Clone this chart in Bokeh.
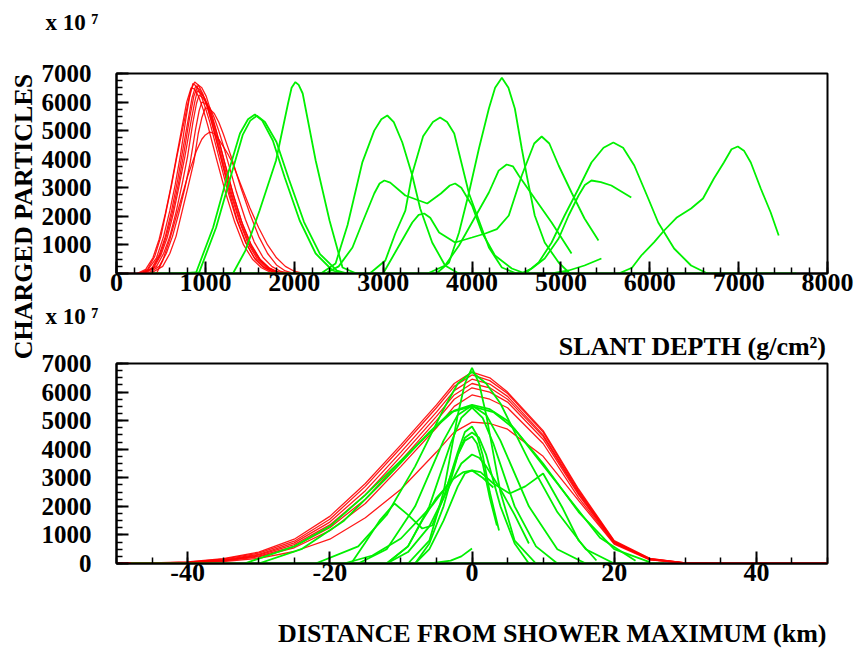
import math
from bokeh.plotting import figure
from bokeh.models import Range1d, SingleIntervalTicker, Label, Title
from bokeh.layouts import column, row
from bokeh.embed import file_html
from bokeh.resources import INLINE

# ---------------- TOP PANEL: charged particles (x 10^7) vs slant depth (g/cm2)
# red showers
r1_x = [0, 250, 350, 450, 530, 600, 660, 720, 780, 820, 860, 900, 950, 1000, 1050, 1100, 1150, 1250, 1350, 1450, 1550, 1650, 1750, 1850]
r1_y = [0, 0, 120, 550, 1300, 2200, 3100, 4150, 5400, 6150, 6650, 6550, 6250, 5800, 5300, 4700, 4100, 2900, 1900, 1100, 550, 230, 70, 0]
r2_x = [300, 400, 480, 550, 620, 690, 750, 810, 850, 890, 930, 980, 1030, 1080, 1130, 1180, 1280, 1380, 1480, 1580, 1680, 1780, 1880]
r2_y = [0, 200, 650, 1300, 2200, 3300, 4400, 5450, 6150, 6550, 6450, 6200, 5750, 5200, 4600, 4000, 2850, 1850, 1050, 520, 220, 60, 0]
r3_x = [280, 420, 500, 570, 640, 700, 770, 840, 880, 910, 950, 1000, 1050, 1100, 1150, 1200, 1300, 1400, 1500, 1600, 1700, 1800, 1900]
r3_y = [0, 200, 650, 1250, 2100, 3000, 4100, 5350, 6000, 6400, 6300, 6100, 5650, 5100, 4500, 3900, 2750, 1750, 1000, 500, 200, 60, 0]
r4_x = [320, 450, 530, 600, 670, 740, 800, 860, 900, 930, 970, 1020, 1070, 1120, 1170, 1220, 1320, 1420, 1520, 1620, 1720, 1820, 1920]
r4_y = [0, 250, 700, 1300, 2150, 3150, 4100, 5300, 5950, 6250, 6150, 5950, 5500, 5000, 4450, 3850, 2700, 1700, 950, 470, 190, 50, 0]
r5_x = [260, 350, 430, 500, 560, 620, 680, 740, 800, 840, 880, 920, 970, 1020, 1070, 1120, 1170, 1260, 1360, 1460, 1560, 1660, 1760, 1860]
r5_y = [0, 150, 600, 1300, 2200, 3100, 4100, 5000, 5900, 6450, 6700, 6600, 6300, 5850, 5300, 4700, 4100, 2950, 1850, 1050, 500, 200, 50, 0]
r6_x = [350, 480, 560, 630, 700, 770, 830, 890, 930, 960, 1000, 1050, 1100, 1150, 1200, 1250, 1350, 1450, 1550, 1650, 1750, 1850, 1950]
r6_y = [0, 250, 700, 1300, 2100, 3000, 3900, 5050, 5700, 6000, 5950, 5800, 5450, 5000, 4500, 3950, 2850, 1900, 1100, 560, 240, 70, 0]
r7_x = [380, 520, 600, 670, 740, 810, 870, 920, 960, 1000, 1050, 1100, 1150, 1200, 1250, 1300, 1400, 1500, 1600, 1700, 1800, 1900, 2000]
r7_y = [0, 250, 700, 1300, 2200, 3100, 3900, 4900, 5450, 5800, 5750, 5600, 5300, 4900, 4450, 4000, 3000, 2100, 1300, 700, 300, 90, 0]
r8_x = [450, 520, 600, 700, 800, 900, 960, 1000, 1050, 1100, 1150, 1200, 1250, 1300, 1400, 1500, 1600, 1700, 1800, 1900, 2000, 2100]
r8_y = [0, 450, 1200, 2300, 3400, 4300, 4700, 4850, 4950, 4900, 4700, 4450, 4200, 3900, 3100, 2300, 1600, 1000, 550, 250, 80, 0]
r9_x = [230, 330, 410, 480, 550, 610, 670, 730, 790, 840, 880, 930, 980, 1030, 1080, 1130, 1230, 1330, 1430, 1530, 1630, 1730, 1830]
r9_y = [0, 150, 550, 1200, 2100, 3000, 4000, 5000, 6000, 6500, 6450, 6150, 5700, 5150, 4550, 3950, 2800, 1800, 1000, 500, 200, 50, 0]
r10_x = [300, 410, 490, 560, 630, 700, 760, 820, 870, 920, 960, 1010, 1060, 1110, 1160, 1210, 1310, 1410, 1510, 1610, 1710, 1810, 1910]
r10_y = [0, 200, 650, 1300, 2150, 3200, 4250, 5400, 6200, 6600, 6500, 6200, 5700, 5150, 4550, 3950, 2800, 1800, 1050, 520, 210, 60, 0]

# green showers
g0_x = [380, 7650]
g0_y = [0, 0]
g1a_x = [700, 896, 1087, 1255, 1389, 1480, 1557, 1640, 1759, 1893, 2061, 2241, 2431, 2550]
g1a_y = [0, 35, 1610, 3500, 4900, 5400, 5565, 5350, 4655, 3360, 1855, 700, 105, 0]
g1b_x = [740, 930, 1120, 1290, 1420, 1505, 1580, 1670, 1800, 1940, 2110, 2290, 2480, 2600]
g1b_y = [0, 40, 1600, 3450, 4850, 5350, 5520, 5300, 4600, 3300, 1800, 680, 100, 0]
g2_x = [1200, 1310, 1450, 1610, 1795, 1930, 1970, 2013, 2050, 2095, 2241, 2397, 2543, 2700]
g2_y = [0, 0, 800, 2205, 3955, 5950, 6500, 6700, 6600, 6300, 3955, 1855, 210, 0]
g3_x = [2300, 2465, 2600, 2767, 2900, 2980, 3047, 3120, 3216, 3328, 3417, 3552, 3697, 3850]
g3_y = [0, 350, 1700, 3900, 5000, 5400, 5530, 5300, 4585, 3430, 2275, 1085, 280, 0]
g4_x = [2350, 2500, 2655, 2767, 2900, 2960, 3014, 3080, 3250, 3496, 3650, 3750, 3810, 3880, 4000, 4112, 4258, 4448, 4600]
g4_y = [0, 250, 910, 1785, 2800, 3150, 3255, 3180, 2730, 2450, 2800, 3080, 3150, 3000, 2380, 1435, 630, 175, 0]
g5_x = [2850, 3025, 3137, 3250, 3328, 3450, 3560, 3641, 3720, 3800, 3966, 4078, 4190, 4336, 4500]
g5_y = [0, 455, 1400, 2200, 3500, 4800, 5300, 5460, 5300, 4900, 2800, 1855, 910, 210, 0]
g6_x = [3000, 3180, 3328, 3400, 3462, 3530, 3630, 3810, 4000, 4150, 4280, 4414, 4560, 4700, 4784, 4870, 4975, 5120, 5266, 5423]
g6_y = [0, 980, 1785, 2050, 2100, 1950, 1435, 1085, 1260, 1400, 1550, 2030, 3430, 4550, 4795, 4550, 3780, 2835, 1925, 1155]
g7_x = [3600, 3742, 3854, 3966, 4078, 4190, 4260, 4336, 4410, 4482, 4560, 4616, 4706, 4818, 4975, 5100]
g7_y = [0, 385, 1435, 2835, 4375, 5775, 6500, 6850, 6500, 5775, 4375, 3430, 2030, 1085, 385, 0]
g8_x = [3500, 3697, 3854, 4000, 4190, 4300, 4390, 4460, 4526, 4706, 4896, 5120]
g8_y = [0, 280, 980, 1785, 2835, 3600, 3815, 3750, 3430, 2625, 1785, 700]
g10_x = [4600, 4750, 4896, 5042, 5199, 5344, 5480, 5590, 5700, 5826, 5983, 6095, 6274, 6465, 6650]
g10_y = [0, 385, 1085, 2030, 2975, 3885, 4400, 4585, 4400, 3780, 2625, 1785, 875, 280, 0]
g11_x = [4550, 4672, 4818, 4975, 5087, 5199, 5270, 5344, 5450, 5568, 5792]
g11_y = [0, 175, 525, 1225, 2030, 2730, 3100, 3255, 3200, 3080, 2660]
g12_x = [5650, 5800, 5905, 6050, 6162, 6300, 6465, 6599, 6722, 6834, 6920, 6991, 7060, 7137, 7249, 7361, 7451]
g12_y = [0, 200, 630, 1100, 1505, 1950, 2275, 2625, 3325, 3885, 4350, 4445, 4300, 3885, 2975, 2135, 1330]
g13_x = [4900, 5087, 5266, 5456]
g13_y = [0, 105, 280, 525]

top_red = [(r1_x, r1_y), (r2_x, r2_y), (r3_x, r3_y), (r4_x, r4_y), (r5_x, r5_y),
           (r6_x, r6_y), (r7_x, r7_y), (r8_x, r8_y), (r9_x, r9_y), (r10_x, r10_y)]
top_green = [(g0_x, g0_y), (g1a_x, g1a_y), (g1b_x, g1b_y), (g2_x, g2_y), (g3_x, g3_y),
             (g4_x, g4_y), (g5_x, g5_y), (g6_x, g6_y), (g7_x, g7_y), (g8_x, g8_y),
             (g10_x, g10_y), (g11_x, g11_y), (g12_x, g12_y), (g13_x, g13_y)]

# ---------------- BOTTOM PANEL: vs distance from shower maximum (km)
br_x = [-50, -45, -40, -35, -30, -25, -20, -15, -10, -5, -2.5, 0, 2.5, 5, 10, 15, 20, 25, 30, 35, 50]
br1_y = [0, 20, 60, 170, 400, 850, 1650, 2800, 4150, 5550, 6300, 6700, 6500, 6000, 4650, 2600, 800, 180, 20, 0, 0]
br2_y = [0, 15, 50, 150, 360, 780, 1550, 2700, 4050, 5450, 6200, 6600, 6400, 5950, 4600, 2550, 780, 170, 20, 0, 0]
br3_y = [0, 10, 40, 130, 320, 720, 1450, 2550, 3900, 5300, 6050, 6450, 6280, 5850, 4500, 2500, 760, 160, 20, 0, 0]
br4_y = [0, 10, 35, 110, 290, 660, 1350, 2400, 3750, 5150, 5900, 6300, 6150, 5750, 4450, 2450, 740, 150, 15, 0, 0]
br5_y = [0, 5, 30, 100, 260, 600, 1250, 2250, 3600, 5000, 5750, 6150, 6000, 5650, 4350, 2400, 720, 140, 15, 0, 0]
br6_y = [0, 5, 25, 90, 230, 550, 1150, 2100, 3400, 4750, 5500, 5900, 5750, 5450, 4200, 2300, 700, 140, 15, 0, 0]
br7_y = [0, 5, 20, 70, 180, 420, 850, 1600, 2600, 3900, 4600, 4950, 4900, 4700, 3750, 2200, 680, 130, 15, 0, 0]

bg0_x = [-48, 27]
bg0_y = [0, 0]
bg1a_x = [-32, -25, -20, -15, -10, -5, -2.5, 0, 2.5, 5, 10, 15, 20, 25]
bg1a_y = [0, 600, 1300, 2400, 3600, 4800, 5350, 5550, 5400, 5000, 3500, 1800, 500, 50]
bg1b_x = [-30, -24, -18, -12, -6, -3, 0, 3, 6, 12, 18, 23]
bg1b_y = [0, 500, 1500, 3000, 4600, 5300, 5500, 5300, 4700, 2800, 900, 100]
bg2_x = [-22, -16, -12, -8, -4, -2, 0, 2, 4, 8, 12, 16, 20]
bg2_y = [0, 600, 1700, 3400, 5400, 6300, 6700, 6300, 5600, 3600, 1800, 500, 0]
bg3_x = [-16, -12, -8, -4, -2, 0, 2, 4, 8, 12, 16]
bg3_y = [0, 500, 2000, 4300, 5200, 5530, 5200, 4300, 2000, 500, 0]
bg4_x = [-18, -14, -10, -5.6, -3, -1.2, 0, 1.2, 3, 5.3, 7.5, 10, 12.7, 15, 17.5]
bg4_y = [0, 280, 875, 2030, 2900, 3200, 3255, 3200, 2800, 2450, 2700, 3150, 1960, 805, 105]
bg5_x = [-12, -9, -6, -3, -1.5, 0, 1.5, 3, 6, 9, 12]
bg5_y = [0, 600, 2000, 4200, 5100, 5460, 5100, 4200, 2000, 600, 0]
bg6_x = [-17, -15, -13, -10.9, -9, -7, -5.6, -4, -2, -1, 0, 0.7, 1.5, 2.5, 3.8]
bg6_y = [0, 735, 1500, 2100, 1700, 1225, 1330, 2300, 3900, 4600, 4795, 4500, 3800, 2500, 1155]
bg7_x = [-9, -6, -4, -2, -1, 0, 1, 2, 4, 6, 9]
bg7_y = [0, 800, 2500, 5200, 6300, 6850, 6300, 5200, 2500, 800, 0]
bg8_x = [-12, -9, -6, -3, -1.5, 0, 1, 2, 4, 6, 8]
bg8_y = [0, 400, 1300, 2800, 3500, 3815, 3700, 3400, 2600, 1700, 700]
bg10_x = [-8, -6, -4, -2, -1, 0, 1, 2, 4, 6, 8]
bg10_y = [0, 700, 2000, 3800, 4400, 4585, 4400, 3800, 2000, 700, 0]
bg11_x = [-8, -6, -4, -2, -1, 0, 1.5, 3]
bg11_y = [0, 500, 1500, 2700, 3150, 3255, 3000, 2660]
bg12_x = [-12, -9, -7, -5, -3.5, -2, -1, 0, 0.7, 1.5, 2.5, 3.5]
bg12_y = [0, 600, 1500, 2300, 2700, 3800, 4300, 4445, 4200, 3500, 2300, 1330]
bg13_x = [-5.9, -3, -1.5, 0]
bg13_y = [0, 100, 250, 525]

bot_red = [br1_y, br2_y, br3_y, br4_y, br5_y, br6_y, br7_y]
bot_green = [(bg0_x, bg0_y), (bg1a_x, bg1a_y), (bg1b_x, bg1b_y), (bg2_x, bg2_y), (bg3_x, bg3_y),
             (bg4_x, bg4_y), (bg5_x, bg5_y), (bg6_x, bg6_y), (bg7_x, bg7_y), (bg8_x, bg8_y),
             (bg10_x, bg10_y), (bg11_x, bg11_y), (bg12_x, bg12_y), (bg13_x, bg13_y)]

bottom_tick_text = {-40: "-40", -20: "-20", 0: "0", 20: "20", 40: "40"}

FONT = "Liberation Serif"
RED = "#ff0000"
GREEN = "#00f000"


def style(p, xint, xminor):
    p.outline_line_color = "black"
    p.outline_line_width = 2
    p.xgrid.visible = False
    p.ygrid.visible = False
    p.background_fill_color = "white"
    p.border_fill_color = "white"
    p.xaxis.ticker = SingleIntervalTicker(interval=xint, num_minor_ticks=xminor)
    p.yaxis.ticker = SingleIntervalTicker(interval=1000, num_minor_ticks=4)
    for ax in (p.xaxis, p.yaxis):
        ax.axis_line_width = 2
        ax.major_tick_in = 12
        ax.major_tick_out = 0
        ax.minor_tick_in = 6
        ax.minor_tick_out = 0
        ax.major_tick_line_width = 2
        ax.minor_tick_line_width = 1.5
        ax.major_label_text_font = FONT
        ax.major_label_text_font_style = "bold"
        ax.major_label_text_color = "black"
    p.xaxis.major_label_text_font_size = "26px"
    p.yaxis.major_label_text_font_size = "25px"
    p.xaxis.major_label_standoff = 0
    p.yaxis.major_label_standoff = 25


def title(text, size, align="left", offset=0, standoff=0, valign="bottom"):
    return Title(text=text, text_font=FONT, text_font_style="bold", text_font_size=size,
                 text_color="black", align=align, offset=offset, standoff=standoff,
                 vertical_align=valign)


# left strip carrying the shared y-axis title
yfig = figure(width=38, height=651, output_backend="svg", toolbar_location=None,
              x_range=Range1d(0, 38), y_range=Range1d(651, 0),
              x_axis_type=None, y_axis_type=None, min_border=0)
yfig.outline_line_color = None
yfig.xgrid.visible = False
yfig.ygrid.visible = False
yfig.add_layout(Label(x=23, y=216, text="CHARGED PARTICLES", text_font=FONT,
                      text_font_style="bold", text_font_size="26px", text_align="center",
                      text_baseline="middle", angle=math.pi / 2, text_color="black"))

p1 = figure(width=818, height=302, output_backend="svg", toolbar_location=None,
            x_range=Range1d(0, 8000), y_range=Range1d(0, 7000),
            min_border_left=75, min_border_right=29, min_border_top=73, min_border_bottom=29)
style(p1, 1000, 5)
for xs, ys in top_red:
    p1.line(xs, ys, line_color=RED, line_width=1.3, line_alpha=0.9)
for xs, ys in top_green:
    p1.line(xs, ys, line_color=GREEN, line_width=1.8)
p1.add_layout(title(" ", "34px"), "above")
p1.add_layout(title("x 10 \u2077", "23px", align="left", offset=-71), "above")

p2 = figure(width=818, height=349, output_backend="svg", toolbar_location=None,
            x_range=Range1d(-50, 50), y_range=Range1d(0, 7000),
            min_border_left=75, min_border_right=29, min_border_top=61, min_border_bottom=88)
style(p2, 20, 4)
p2.xaxis.major_label_overrides = bottom_tick_text
for ys in bot_red:
    p2.line(br_x, ys, line_color=RED, line_width=1.3, line_alpha=0.9)
for xs, ys in bot_green:
    p2.line(xs, ys, line_color=GREEN, line_width=1.8)
p2.add_layout(title("SLANT DEPTH (g/cm\u00b2)", "26px", align="right", offset=1,
                    standoff=2, valign="top"), "above")
p2.add_layout(title("x 10 \u2077", "23px", align="left", offset=-71, valign="top"), "above")
p2.add_layout(title(" ", "28px"), "below")
p2.add_layout(title("DISTANCE FROM SHOWER MAXIMUM (km)", "26px", align="right", offset=1), "below")

layout = row(yfig, column(p1, p2, spacing=0), spacing=0)
open("out.html", "w").write(file_html(layout, INLINE))
